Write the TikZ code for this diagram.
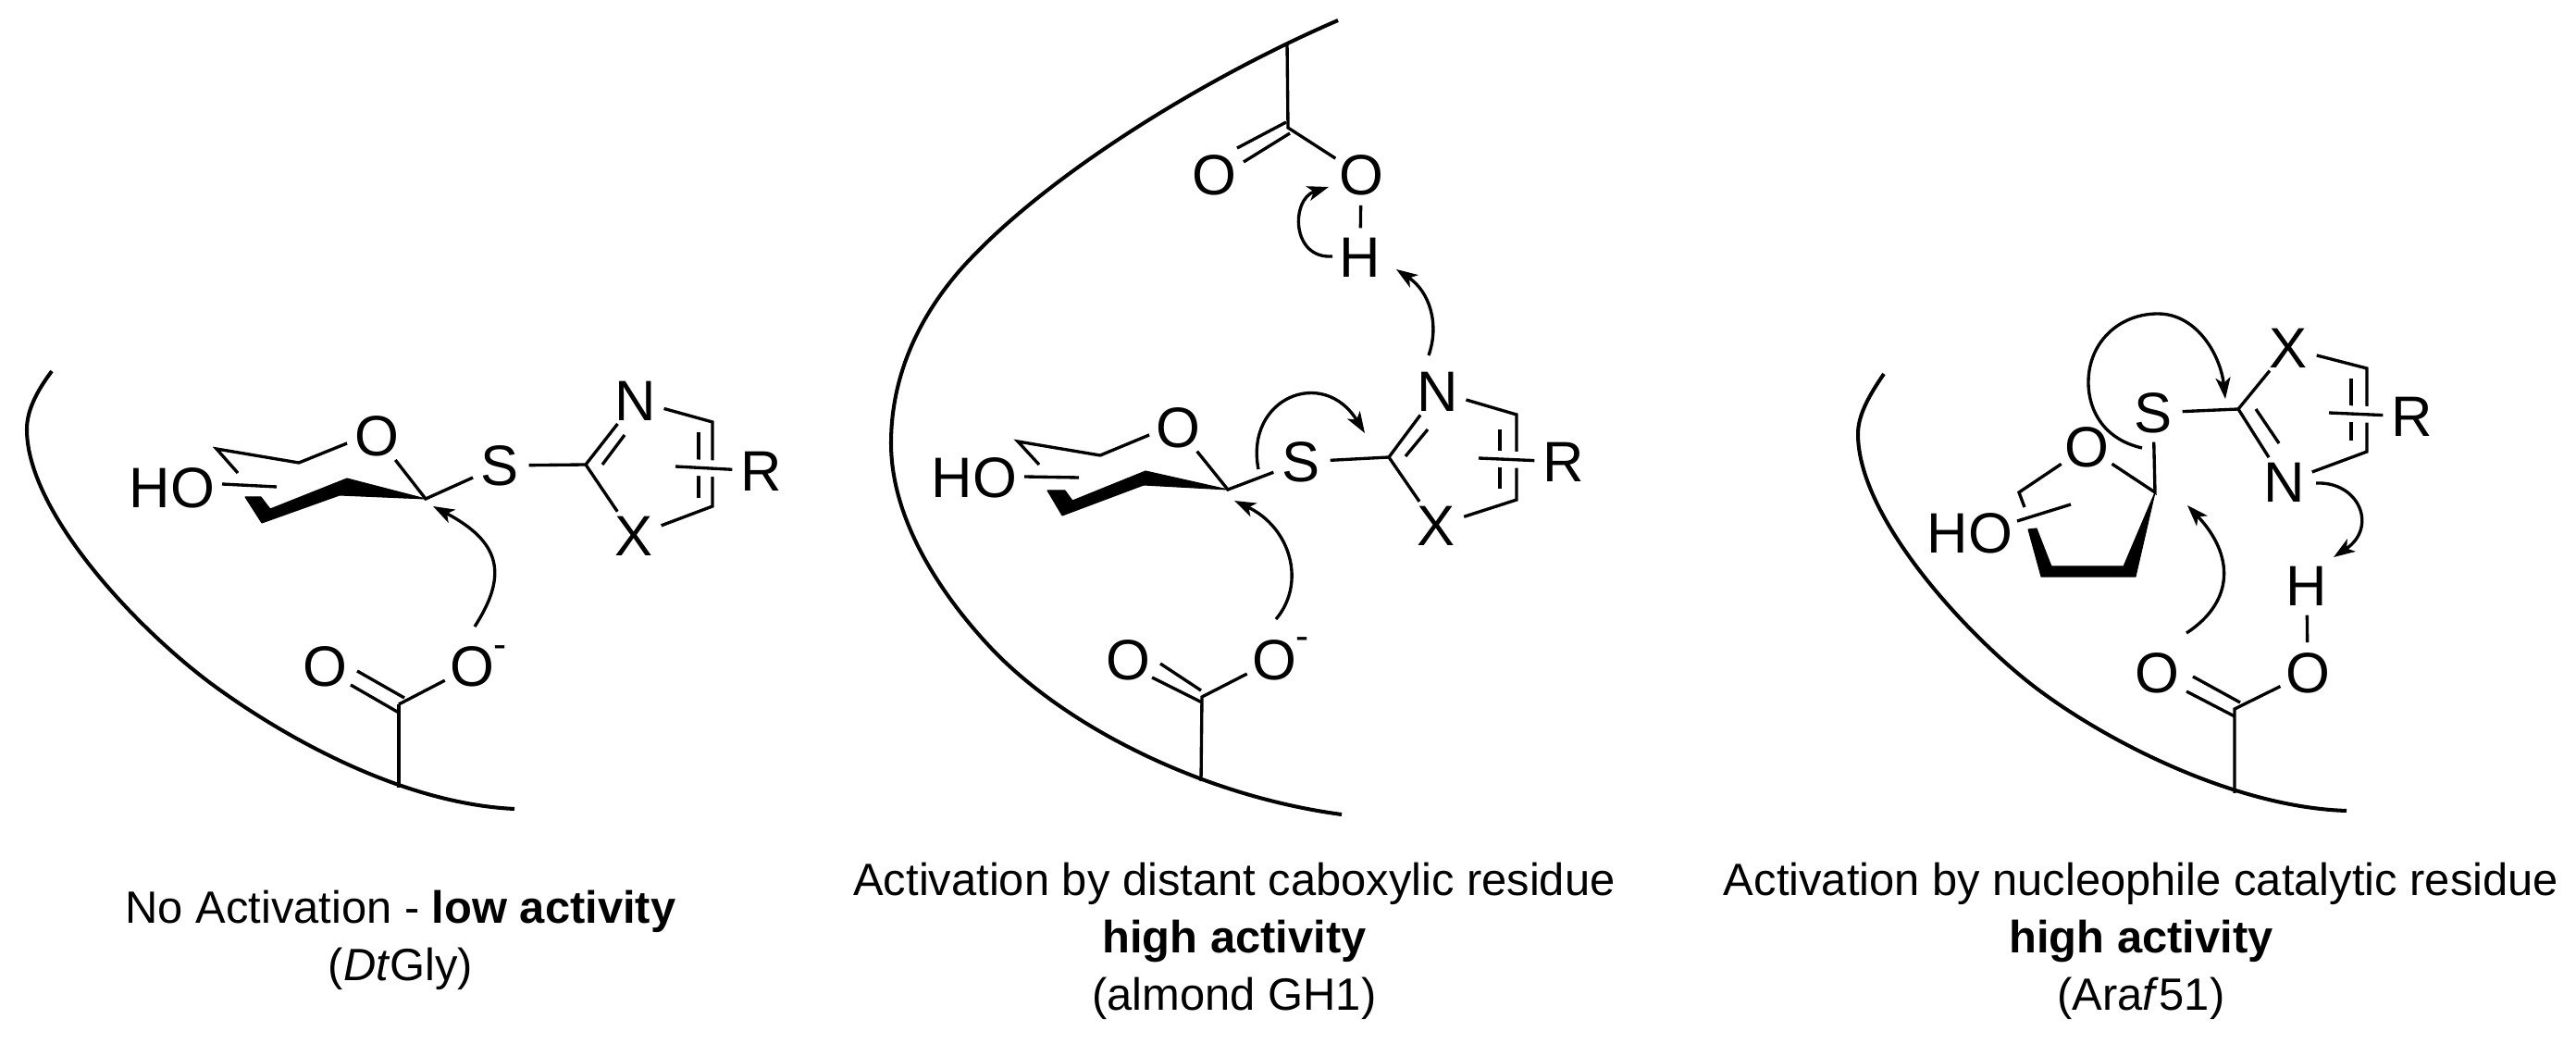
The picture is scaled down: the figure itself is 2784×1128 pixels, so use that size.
\documentclass[tikz,border=0pt]{standalone}
\usepackage{fontspec}
\setmainfont{Liberation Sans}
\usetikzlibrary{arrows.meta}
\tikzset{
  atom/.style={circle, inner sep=0pt, minimum size=0.62cm, font=\fontsize{17.5}{20}\selectfont},
  charge/.style={inner sep=0pt, font=\fontsize{12}{14}\selectfont},
  bond/.style={line width=0.95pt},
  pocket/.style={line width=1.15pt},
  wedge/.style={fill=black, draw=black, line width=0.3pt, line join=round},
  push/.style={line width=0.95pt, -{Stealth[length=2.3mm, width=1.6mm, inset=0.6mm]}},
  caption/.style={align=center, inner sep=0pt, font=\fontsize{13.9}{17.6}\selectfont},
  crossing/.style={bond, preaction={draw=white, line width=5pt}}
}
\begin{document}
\begin{tikzpicture}[x=0.01cm, y=-0.01cm]
    \useasboundingbox (0, 0) rectangle (2784, 1128);

    % Left panel
    \draw [pocket] (56, 401) .. controls (38, 425) and (29, 445) .. (29, 464)
                   .. controls (29, 550) and (140, 672) .. (226, 737)
                   .. controls (300, 792) and (430, 868) .. (556, 874);
    \path (431, 851) coordinate (a1)
          (431, 761) coordinate (a2)
          (431, 770) coordinate (a3)
          (379, 740) coordinate (a4)
          (437, 754) coordinate (a5)
          (386, 725) coordinate (a6)
          (460, 539) coordinate (a7)
          (375, 479) coordinate (a8)
          (323, 500) coordinate (a9)
          (234, 485) coordinate (a10)
          (257, 511) coordinate (a11)
          (240, 523) coordinate (a12)
          (299, 526) coordinate (a13)
          (633, 502) coordinate (a14)
          (651, 502) coordinate (a15)
          (675, 470) coordinate (a16)
          (770, 456) coordinate (a17)
          (770, 547) coordinate (a18)
          (755, 467) coordinate (a19)
          (755, 538) coordinate (a20)
          (730, 504) coordinate (a21)
          (513, 677) coordinate (a22)
          (468, 547) coordinate (a23);
    \node [atom] (aO1) at (351, 720) {O};
    \node [atom] (aO2) at (510, 720) {O};
    \node [charge] (aminus) at (541, 704) {-};
    \node [atom] (aO3) at (407, 471) {O};
    \node [atom] (aS) at (540, 503) {S};
    \node [atom] (aN) at (687, 433) {N};
    \node [atom] (aX) at (685, 579) {X};
    \node [atom] (aR) at (823, 509) {R};
    \node [inner sep=0pt, font=\fontsize{17.5}{20}\selectfont] (aHO) at (186, 527) {HO};
    \draw [bond] (a1) -- (a2);
    \draw [bond] (a3) -- (a4) (a5) -- (a6);
    \draw [bond] (a2) -- (aO2);
    \draw [bond] (aO3) -- (a7) -- (aS);
    \draw [bond] (aO3) -- (a8) -- (a9) -- (a10) -- (a11);
    \draw [bond] (a12) -- (a13);
    \fill [wedge] (265, 537) -- (282, 537) -- (292, 550) -- (375, 517) -- (a7) -- (367, 535) -- (283, 565) -- cycle;
    \draw [bond] (aS) -- (a14) -- (aN);
    \draw [bond] (a15) -- (a16);
    \draw [bond] (a14) -- (aX);
    \draw [bond] (aN) -- (a17) -- (a18) -- (aX);
    \draw [bond] (a19) -- (a20);
    \draw [crossing] (a21) -- (aR);
    \draw [push] (a22) .. controls (550, 620) and (540, 585) .. (a23);

    % Middle panel
    \draw [pocket] (1446, 22) .. controls (1300, 85) and (1130, 190) .. (1041, 288)
                   .. controls (990, 345) and (963, 410) .. (963, 479)
                   .. controls (963, 560) and (1015, 640) .. (1069, 698)
                   .. controls (1150, 785) and (1300, 860) .. (1450, 880);
    \path (1391, 46) coordinate (b1)
          (1392, 138) coordinate (b2)
          (1390, 132) coordinate (b3)
          (1337, 160) coordinate (b4)
          (1394, 144) coordinate (b5)
          (1344, 175) coordinate (b6)
          (1440, 277) coordinate (b7)
          (1436, 202) coordinate (b8)
          (1544, 384) coordinate (b9)
          (1509, 291) coordinate (b10)
          (1639, 448) coordinate (b11)
          (1639, 540) coordinate (b12)
          (1621, 464) coordinate (b13)
          (1621, 528) coordinate (b14)
          (1598, 495) coordinate (b15)
          (1501, 494) coordinate (b16)
          (1519, 493) coordinate (b17)
          (1543, 464) coordinate (b18)
          (1327, 529) coordinate (b19)
          (1242, 470) coordinate (b20)
          (1189, 492) coordinate (b21)
          (1100, 477) coordinate (b22)
          (1123, 502) coordinate (b23)
          (1107, 515) coordinate (b24)
          (1166, 516) coordinate (b25)
          (1360, 507) coordinate (b26)
          (1475, 468) coordinate (b27)
          (1379, 669) coordinate (b28)
          (1334, 541) coordinate (b29)
          (1298, 844) coordinate (b30)
          (1299, 753) coordinate (b31)
          (1299, 759) coordinate (b32)
          (1245, 732) coordinate (b33)
          (1298, 746) coordinate (b34)
          (1254, 717) coordinate (b35);
    \node [atom] (bO1) at (1312, 189) {O};
    \node [atom] (bO2) at (1471, 189) {O};
    \node [atom] (bH) at (1470, 278) {H};
    \node [atom] (bN) at (1554, 423) {N};
    \node [atom] (bR) at (1690, 499) {R};
    \node [atom] (bX) at (1552, 568) {X};
    \node [atom] (bS) at (1406, 499) {S};
    \node [atom] (bO3) at (1273, 462) {O};
    \node [atom] (bO4) at (1219, 713) {O};
    \node [atom] (bO5) at (1377, 713) {O};
    \node [charge] (bminus) at (1408, 695) {-};
    \node [inner sep=0pt, font=\fontsize{17.5}{20}\selectfont] (bHO) at (1053, 516) {HO};
    \draw [bond] (b1) -- (b2) -- (bO2);
    \draw [bond] (b3) -- (b4) (b5) -- (b6);
    \draw [bond] (bO2) -- (bH);
    \draw [push] (b7) .. controls (1395, 280) and (1395, 215) .. (b8);
    \draw [push] (b9) .. controls (1556, 350) and (1545, 315) .. (b10);
    \draw [bond] (bN) -- (b11) -- (b12) -- (bX);
    \draw [bond] (b13) -- (b14);
    \draw [crossing] (b15) -- (bR);
    \draw [bond] (bS) -- (b16) -- (bN);
    \draw [bond] (b17) -- (b18);
    \draw [bond] (b16) -- (bX);
    \draw [bond] (bO3) -- (b19) -- (bS);
    \draw [bond] (bO3) -- (b20) -- (b21) -- (b22) -- (b23);
    \draw [bond] (b24) -- (b25);
    \fill [wedge] (1132, 530) -- (1151, 530) -- (1159, 541) -- (1238, 509) -- (b19) -- (1236, 524) -- (1148, 557) -- cycle;
    \draw [push] (b26) .. controls (1345, 430) and (1430, 395) .. (b27);
    \draw [push] (b28) .. controls (1412, 630) and (1395, 570) .. (b29);
    \draw [bond] (b30) -- (b31) -- (bO5);
    \draw [bond] (b32) -- (b33) (b34) -- (b35);

    % Right panel
    \draw [pocket] (2036, 404) .. controls (2018, 430) and (2008, 450) .. (2008, 469)
                   .. controls (2008, 555) and (2115, 675) .. (2191, 736)
                   .. controls (2265, 795) and (2410, 872) .. (2536, 876);
    \path (2415, 857) coordinate (c1)
          (2415, 766) coordinate (c2)
          (2415, 774) coordinate (c3)
          (2363, 747) coordinate (c4)
          (2421, 759) coordinate (c5)
          (2370, 731) coordinate (c6)
          (2503, 522) coordinate (c7)
          (2522, 602) coordinate (c8)
          (2558, 488) coordinate (c9)
          (2558, 398) coordinate (c10)
          (2541, 409) coordinate (c11)
          (2541, 476) coordinate (c12)
          (2517, 446) coordinate (c13)
          (2419, 442) coordinate (c14)
          (2438, 442) coordinate (c15)
          (2463, 479) coordinate (c16)
          (2329, 532) coordinate (c17)
          (2182, 532) coordinate (c18)
          (2188, 548) coordinate (c19)
          (2180, 563) coordinate (c20)
          (2238, 545) coordinate (c21)
          (2315, 484) coordinate (c22)
          (2405, 431) coordinate (c23)
          (2363, 684) coordinate (c24)
          (2364, 546) coordinate (c25);
    \node [atom] (cO1) at (2331, 727) {O};
    \node [atom] (cO2) at (2494, 727) {O};
    \node [atom] (cH) at (2493, 633) {H};
    \node [atom] (cN) at (2469, 521) {N};
    \node [atom] (cR) at (2607, 450) {R};
    \node [atom] (cX) at (2473, 376) {X};
    \node [atom] (cS) at (2327, 446) {S};
    \node [atom] (cO3) at (2255, 483) {O};
    \node [inner sep=0pt, font=\fontsize{17.5}{20}\selectfont] (cHO) at (2129, 576) {HO};
    \draw [bond] (c1) -- (c2) -- (cO2);
    \draw [bond] (c3) -- (c4) (c5) -- (c6);
    \draw [bond] (cO2) -- (cH);
    \draw [push] (c7) .. controls (2550, 520) and (2570, 570) .. (c8);
    \draw [bond] (cN) -- (c9) -- (c10) -- (cX);
    \draw [bond] (c11) -- (c12);
    \draw [crossing] (c13) -- (cR);
    \draw [bond] (cS) -- (c14) -- (cX);
    \draw [bond] (c14) -- (cN);
    \draw [bond] (c15) -- (c16);
    \draw [bond] (cS) -- (c17) -- (cO3);
    \draw [bond] (cO3) -- (c18) -- (c19);
    \draw [bond] (c20) -- (c21);
    \fill [wedge] (2192, 572) -- (2201, 571) -- (2217, 612) -- (2295, 612) -- (c17) -- (2308, 623) -- (2206, 623) -- cycle;
    \draw [push] (c22) .. controls (2275, 475) and (2257, 445) .. (2257, 413)
                       .. controls (2257, 370) and (2290, 339) .. (2332, 339)
                       .. controls (2375, 339) and (2400, 385) .. (c23);
    \draw [push] (c24) .. controls (2415, 650) and (2415, 600) .. (c25);

    % Captions
    \node [caption] (acap) at (433, 1016) {No Activation - \textbf{low activity}\\(\textit{Dt}Gly)};
    \node [caption] (bcap) at (1334, 1017) {Activation by distant caboxylic residue\\\textbf{high activity}\\(almond GH1)};
    \node [caption] (ccap) at (2314, 1017) {Activation by nucleophile catalytic residue\\\textbf{high activity}\\(Ara\textit{f}51)};
\end{tikzpicture}
\end{document}
